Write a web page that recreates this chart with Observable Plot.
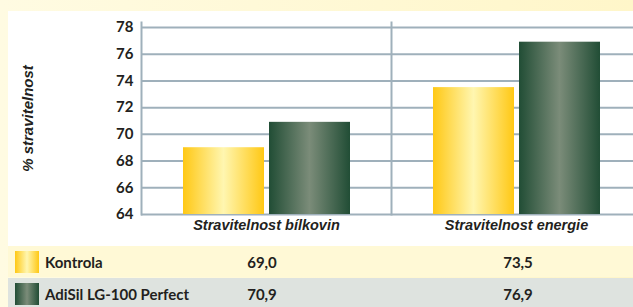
<!DOCTYPE html>
<html>
<head>
<meta charset="utf-8">
<script src="https://cdn.jsdelivr.net/npm/d3@7"></script>
<script src="https://cdn.jsdelivr.net/npm/@observablehq/plot@0.6"></script>
<style>
  html, body { margin: 0; padding: 0; }
  body { width: 633px; height: 307px; overflow: hidden; position: relative;
         background: linear-gradient(90deg, #fffbe2 0%, #fff6c9 100%); font-family: Lato, sans-serif; }
  #panel { position: absolute; left: 8px; top: 11px; width: 625px; height: 235px; background: #fff; }
  #chart { position: absolute; left: 0; top: 0; }
  #table { position: absolute; left: 8px; top: 246px; width: 625px; }
  .row { position: relative; height: 31px; font-weight: 700; font-size: 15px; color: #231f20; }
  .row span { position: absolute; top: 50%; transform: translateY(-50%); white-space: nowrap; }
  .sw { position: absolute; left: 7px; top: 5px; width: 24px; height: 22px; }
</style>
</head>
<body>
<div id="panel"></div>
<div id="chart"></div>
<div id="table"></div>
<script>
const categories = ["Stravitelnost bílkovin", "Stravitelnost energie"];
const series = ["Kontrola", "AdiSil LG-100 Perfect"];
const kontrola = [69.0, 73.5];
const adisil = [70.9, 76.9];
const yTicks = [64, 66, 68, 70, 72, 74, 76, 78];
const yTitle = "% stravitelnost";

const values = [kontrola, adisil];
const data = [];
series.forEach((s, si) => categories.forEach((c, ci) => data.push({series: s, category: c, value: values[si][ci]})));

const textColor = "#231f20";
const gridColor = "#9fb0bb";
const italicFont = "'Liberation Sans', Arial, sans-serif";

const plot = Plot.plot({
  width: 633,
  height: 240,
  marginLeft: 141,
  marginRight: -8,
  marginTop: 22,
  marginBottom: 26,
  style: {background: "transparent", fontFamily: "Lato, sans-serif", color: textColor},
  fx: {domain: categories, padding: 0},
  x: {domain: series, paddingInner: 0.06, paddingOuter: 0.48, axis: null},
  y: {domain: [yTicks[0], yTicks[yTicks.length - 1]], range: [214, 27]},
  color: {domain: series, range: ["url(#gradY)", "url(#gradG)"]},
  marks: [
    Plot.gridY(yTicks, {stroke: gridColor, strokeOpacity: 1, strokeWidth: 2}),
    Plot.frame({anchor: "left", stroke: gridColor, strokeWidth: 2}),
    Plot.barY(data, {fx: "category", x: "series", y1: yTicks[0], y2: "value", fill: "series"}),
    Plot.axisY(yTicks, {anchor: "left", tickSize: 0, tickPadding: 8, fontSize: 15, fontWeight: 700, fill: textColor,
      label: yTitle, labelAnchor: "center", labelOffset: 119, labelArrow: "none"}),
    Plot.axisFx({anchor: "bottom", tickSize: 0, tickPadding: 5, fontSize: 14.5, fontWeight: 700, fontStyle: "italic",
      fontFamily: italicFont, fill: textColor, label: null})
  ]
});

// gradients
const svg = d3.select(plot);
const defs = svg.insert("defs", ":first-child");
function grad(id, stops) {
  const g = defs.append("linearGradient").attr("id", id).attr("x1", 0).attr("x2", 1).attr("y1", 0).attr("y2", 0);
  stops.forEach(([o, c]) => g.append("stop").attr("offset", o).attr("stop-color", c));
}
grad("gradY", [[0, "#ffc814"], [0.5, "#fff6b0"], [1, "#ffc814"]]);
grad("gradG", [[0, "#214d35"], [0.5, "#7b8c79"], [1, "#214d35"]]);

// y-axis label styling
svg.selectAll("[aria-label='y-axis label'], [aria-label='y-axis label'] text")
  .attr("font-style", "italic").attr("font-weight", 700).attr("font-size", 15)
  .attr("font-family", italicFont);

document.getElementById("chart").appendChild(plot);

// table
const rowBg = ["#fff9d6", "#dee3df"];
const swatch = ["linear-gradient(90deg,#ffc814,#fff6b0,#ffc814)", "linear-gradient(90deg,#214d35,#7b8c79,#214d35)"];
const valueCenters = [254, 510];
const fmt = v => v.toFixed(1).replace(".", ",");
const table = document.getElementById("table");
series.forEach((s, si) => {
  const row = document.createElement("div");
  row.className = "row";
  row.style.background = rowBg[si];
  if (si === 1) row.style.marginTop = "1px";
  const sw = document.createElement("div");
  sw.className = "sw";
  sw.style.background = swatch[si];
  row.appendChild(sw);
  const name = document.createElement("span");
  name.textContent = s;
  name.style.left = "37px";
  row.appendChild(name);
  categories.forEach((c, ci) => {
    const v = document.createElement("span");
    v.textContent = fmt(values[si][ci]);
    v.style.left = valueCenters[ci] + "px";
    v.style.transform = "translate(-50%, -50%)";
    row.appendChild(v);
  });
  table.appendChild(row);
});
</script>
</body>
</html>
